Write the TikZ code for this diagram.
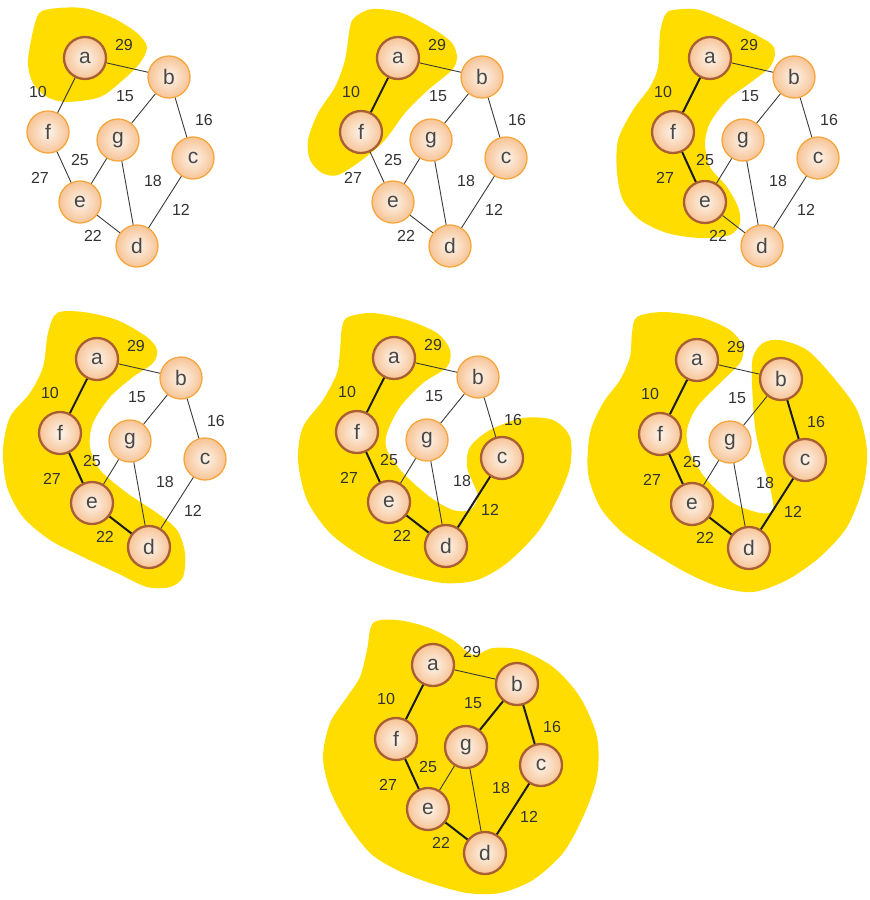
\documentclass[tikz,border=0pt]{standalone}
\usepackage{fontspec}
\setmainfont{Liberation Sans}
\usepackage{tikz}

\definecolor{blobyellow}{HTML}{FFDD00}
\definecolor{nodein}{HTML}{FDF4EC}
\definecolor{nodeout}{HTML}{F7C496}
\definecolor{openring}{HTML}{F5A73E}
\definecolor{donering}{HTML}{A95E33}
\definecolor{lettergray}{HTML}{484848}
\definecolor{digitgray}{HTML}{333333}
\definecolor{edgegray}{HTML}{3A3A3A}
\definecolor{edgedark}{HTML}{1C1C1C}

\newcommand{\primgraph}{%
  \node[vtx, v-a] (a) at (0,0) {a};
  \node[vtx, v-b] (b) at (84,19) {b};
  \node[vtx, v-f] (f) at (-37,74) {f};
  \node[vtx, v-g] (g) at (33,82) {g};
  \node[vtx, v-c] (c) at (108,100) {c};
  \node[vtx, v-e] (e) at (-5,144) {e};
  \node[vtx, v-d] (d) at (52,188) {d};
  \draw[plain, e-ab] (a) -- (b);
  \draw[plain, e-af] (a) -- (f);
  \draw[plain, e-bg] (b) -- (g);
  \draw[plain, e-bc] (b) -- (c);
  \draw[plain, e-ef] (f) -- (e);
  \draw[plain, e-eg] (g) -- (e);
  \draw[plain, e-dg] (g) -- (d);
  \draw[plain, e-cd] (c) -- (d);
  \draw[plain, e-de] (e) -- (d);
  \node[wt] (w29) at (39,-13) {29};
  \node[wt] (w10) at (-47,34) {10};
  \node[wt] (w15) at (40,38) {15};
  \node[wt] (w16) at (119,62) {16};
  \node[wt] (w25) at (-5,102) {25};
  \node[wt] (w27) at (-45,120) {27};
  \node[wt] (w18) at (68,123) {18};
  \node[wt] (w12) at (96,152) {12};
  \node[wt] (w22) at (8,178) {22};
}

\begin{document}
\begin{tikzpicture}[
  x=1pt, y=-1pt,
  vtx/.style={circle, minimum size=42pt, inner sep=0pt, shading=radial, inner color=nodein, outer color=nodeout, draw=openring, line width=1.3pt, text=lettergray, font=\fontsize{21}{21}\selectfont},
  done/.style={draw=donering, line width=2.3pt},
  plain/.style={draw=edgegray, line width=0.9pt},
  tree/.style={draw=edgedark, line width=2pt},
  wt/.style={text=digitgray, inner sep=0pt, font=\fontsize{16}{16}\selectfont},
  blob/.style={fill=blobyellow},
  v-a/.style={}, v-b/.style={}, v-c/.style={}, v-d/.style={}, v-e/.style={}, v-f/.style={}, v-g/.style={},
  e-ab/.style={}, e-af/.style={}, e-bg/.style={}, e-bc/.style={}, e-ef/.style={}, e-eg/.style={}, e-dg/.style={}, e-cd/.style={}, e-de/.style={},
  stage1/.style={v-a/.style=done},
  stage2/.style={stage1, v-f/.style=done, e-af/.style=tree},
  stage3/.style={stage2, v-e/.style=done, e-ef/.style=tree},
  stage4/.style={stage3, v-d/.style=done, e-de/.style=tree},
  stage5/.style={stage4, v-c/.style=done, e-cd/.style=tree},
  stage6/.style={stage5, v-b/.style=done, e-bc/.style=tree},
  stage7/.style={stage6, v-g/.style=done, e-bg/.style=tree}
]
\useasboundingbox (0,0) rectangle (870,900);

\begin{scope}[shift={(85,58)}, name prefix=p1-, stage1]
\fill[blob] plot[smooth cycle] coordinates {(-57,2) (-48,-41) (-35,-49) (-2,-50) (28,-40) (52,-25) (62,-11) (55,5) (38,22) (15,39) (-18,44) (-38,39) (-52,25)};
\primgraph
\end{scope}

\begin{scope}[shift={(398,58)}, name prefix=p2-, stage2]
\fill[blob] plot[smooth cycle] coordinates {(-43,-41) (-26,-49) (4,-45) (37,-28) (54,-15) (59,-1) (54,12) (30,32) (7,55) (-13,82) (-36,102) (-60,117) (-76,115) (-88,102) (-90,82) (-80,55) (-63,29) (-53,2) (-48,-31)};
\primgraph
\end{scope}

\begin{scope}[shift={(710,58)}, name prefix=p3-, stage3]
\fill[blob] plot[smooth cycle] coordinates {(-37,-48) (-10,-48) (30,-31) (60,-15) (65,-5) (60,9) (40,25) (17,42) (0,65) (-5,85) (0,109) (17,129) (28,149) (30,165) (20,177) (-10,180) (-43,175) (-70,162) (-87,142) (-93,115) (-92,82) (-77,52) (-60,29) (-52,9) (-50,-25) (-45,-43)};
\primgraph
\end{scope}

\begin{scope}[shift={(97,359)}, name prefix=p4-, stage4]
\fill[blob] plot[smooth cycle] coordinates {(-40,-46) (-14,-47) (20,-39) (50,-22) (60,-9) (56,4) (36,18) (13,38) (-4,64) (-7,88) (3,111) (30,134) (60,154) (80,171) (88,194) (86,218) (73,228) (50,228) (20,214) (-14,198) (-47,181) (-74,158) (-90,128) (-94,91) (-87,58) (-67,34) (-54,8) (-49,-26)};
\primgraph
\end{scope}

\begin{scope}[shift={(394,358)}, name prefix=p5-, stage5]
\fill[blob] plot[smooth cycle] coordinates {(-46,-41) (-21,-45) (13,-38) (43,-25) (56,-8) (53,9) (29,25) (6,49) (-7,75) (-7,92) (9,115) (36,139) (59,152) (76,152) (84,139) (79,125) (73,109) (76,89) (96,72) (129,60) (159,62) (176,79) (176,109) (163,142) (143,175) (113,205) (83,222) (49,225) (6,215) (-31,199) (-64,175) (-87,142) (-96,102) (-91,69) (-71,42) (-57,15) (-54,-8) (-52,-31)};
\primgraph
\end{scope}

\begin{scope}[shift={(697,360)}, name prefix=p6-, stage6]
\fill[blob] plot[smooth cycle] coordinates {(-60,-43) (-34,-48) (3,-43) (33,-30) (46,-13) (43,3) (23,23) (0,47) (-10,70) (-7,93) (10,120) (36,143) (63,153) (76,150) (73,127) (65,100) (58,67) (55,23) (56,-3) (66,-17) (83,-20) (110,-10) (136,17) (160,50) (170,90) (166,127) (150,167) (123,197) (90,220) (56,232) (23,227) (-10,213) (-44,193) (-74,173) (-97,147) (-109,113) (-107,73) (-94,43) (-77,20) (-67,-3) (-65,-27)};
\primgraph
\end{scope}

\begin{scope}[shift={(433,665)}, name prefix=p7-, stage7]
\fill[blob] plot[smooth cycle] coordinates {(-60,-42) (-36,-45) (-6,-38) (20,-25) (40,-10) (60,-17) (87,-15) (120,2) (147,32) (164,72) (164,112) (150,152) (130,188) (100,215) (67,228) (34,228) (-3,218) (-36,205) (-63,188) (-86,158) (-103,125) (-110,92) (-103,58) (-86,32) (-73,12) (-66,-15)};
\primgraph
\end{scope}
\end{tikzpicture}
\end{document}
